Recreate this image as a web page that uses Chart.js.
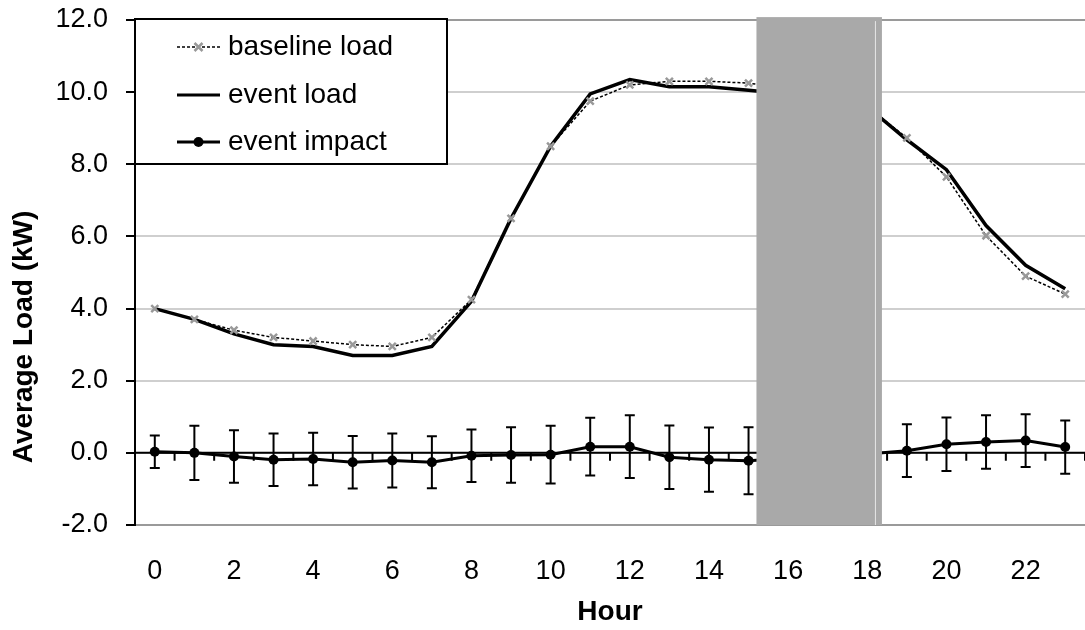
<!DOCTYPE html>
<html>
<head>
<meta charset="utf-8">
<title>Average load on event days</title>
<script src="https://cdn.jsdelivr.net/npm/chart.js@4.4.1/dist/chart.umd.min.js"></script>
<style>
    html, body { margin: 0; padding: 0; background: #fff; }
</style>
</head>
<body>
<canvas id="load-chart" width="1085" height="630"></canvas>
<script>
// ---------------------------- Data ------------------------------------------ //
const hours = [ "0", "1", "2", "3", "4", "5", "6", "7", "8", "9", "10", "11",
    "12", "13", "14", "15", "16", "17", "18", "19", "20", "21", "22", "23" ];

const baseline_load = [ 4.0, 3.7, 3.4, 3.2, 3.1, 3.0, 2.95, 3.2, 4.25, 6.5, 8.5, 9.75,
    10.2, 10.3, 10.3, 10.25, 10.1, 9.9, 9.6, 8.73, 7.65, 6.02, 4.9, 4.4 ];

const event_load = [ 4.0, 3.7, 3.3, 3.0, 2.95, 2.7, 2.7, 2.95, 4.2, 6.5, 8.5, 9.95,
    10.35, 10.15, 10.15, 10.05, 9.95, 9.8, 9.6, 8.68, 7.85, 6.3, 5.2, 4.55 ];

const event_impact = [ 0.03, 0.0, -0.1, -0.19, -0.17, -0.26, -0.21, -0.26, -0.08, -0.06, -0.05, 0.17,
    0.17, -0.12, -0.19, -0.22, -0.15, -0.1, -0.03, 0.06, 0.24, 0.3, 0.34, 0.16 ];

// half length of each error bar (kW)
const impact_error = [ 0.45, 0.75, 0.73, 0.73, 0.73, 0.73, 0.75, 0.72, 0.73, 0.77, 0.8, 0.8,
    0.87, 0.88, 0.89, 0.93, 0.8, 0.8, 0.8, 0.73, 0.74, 0.74, 0.73, 0.74 ];

const y_min = -2;
const y_max = 12;
const y_step = 2;

// grey block over the event hours (in hour units / kW units)
const event_window = [ 15.2, 18.37 ];
const event_window_top = 12.08;

const legend_labels = [ "baseline load", "event load", "event impact" ];

const FONT = "'Liberation Sans', Arial, sans-serif";

// ---------------------------- Plugins ------------------------------------------ //
// black x axis crossing at zero, tick marks between the hours
const zero_axis = {
    id: 'zeroAxis',
    beforeDatasetsDraw( chart ) {
        const { ctx, chartArea, scales: { x, y } } = chart;
        const y0 = y.getPixelForValue( 0 );
        ctx.save();
        ctx.strokeStyle = '#000';
        ctx.lineWidth = 2;
        ctx.beginPath();
        ctx.moveTo( chartArea.left, y0 );
        ctx.lineTo( chartArea.right, y0 );
        for ( let i = 0; i < hours.length; i++ ) {
            const px = x.getPixelForValue( i + 0.5 );
            ctx.moveTo( px, y0 );
            ctx.lineTo( px, y0 + 8 );
        }
        ctx.stroke();
        ctx.restore();
    }
};

const error_bars = {
    id: 'errorBars',
    afterDatasetsDraw( chart ) {
        const { ctx, scales: { x, y } } = chart;
        ctx.save();
        ctx.strokeStyle = '#000';
        ctx.lineWidth = 2;
        ctx.beginPath();
        event_impact.forEach( ( v, i ) => {
            const px = x.getPixelForValue( i );
            const top = y.getPixelForValue( v + impact_error[ i ] );
            const bot = y.getPixelForValue( v - impact_error[ i ] );
            ctx.moveTo( px, top );
            ctx.lineTo( px, bot );
            ctx.moveTo( px - 5, top );
            ctx.lineTo( px + 5, top );
            ctx.moveTo( px - 5, bot );
            ctx.lineTo( px + 5, bot );
        } );
        ctx.stroke();
        ctx.restore();
    }
};

const event_block = {
    id: 'eventBlock',
    afterDatasetsDraw( chart ) {
        const { ctx, scales: { x, y } } = chart;
        const left = x.getPixelForValue( event_window[ 0 ] );
        const right = x.getPixelForValue( event_window[ 1 ] );
        const top = y.getPixelForValue( event_window_top );
        const bottom = y.getPixelForValue( y_min );
        ctx.save();
        ctx.fillStyle = '#a9a9a9';
        ctx.fillRect( left, top, right - left, bottom - top );
        ctx.strokeStyle = '#e6e6e6';
        ctx.lineWidth = 1;
        ctx.beginPath();
        ctx.moveTo( right - 6.5, top + 4 );
        ctx.lineTo( right - 6.5, bottom );
        ctx.stroke();
        ctx.restore();
    }
};

// boxed legend in the top left corner + rotated y title
const boxed_legend = {
    id: 'boxedLegend',
    afterDraw( chart ) {
        const { ctx, chartArea } = chart;
        const bx = chartArea.left, by = chartArea.top - 1;
        ctx.save();
        ctx.fillStyle = '#fff';
        ctx.fillRect( bx, by, 312, 145 );
        ctx.strokeStyle = '#000';
        ctx.lineWidth = 2;
        ctx.strokeRect( bx, by, 312, 145 );

        const x1 = bx + 42, x2 = bx + 85, xm = ( x1 + x2 ) / 2;
        const rows = [ by + 28, by + 76, by + 123 ];

        // baseline: thin dashed line with grey cross
        ctx.lineWidth = 1.5;
        ctx.setLineDash( [ 3, 2 ] );
        ctx.beginPath();
        ctx.moveTo( x1, rows[ 0 ] );
        ctx.lineTo( x2, rows[ 0 ] );
        ctx.stroke();
        ctx.setLineDash( [] );
        ctx.strokeStyle = '#999';
        ctx.lineWidth = 2.5;
        ctx.beginPath();
        ctx.moveTo( xm - 4, rows[ 0 ] - 4 );
        ctx.lineTo( xm + 4, rows[ 0 ] + 4 );
        ctx.moveTo( xm - 4, rows[ 0 ] + 4 );
        ctx.lineTo( xm + 4, rows[ 0 ] - 4 );
        ctx.stroke();

        // event load / event impact
        ctx.strokeStyle = '#000';
        ctx.lineWidth = 3;
        ctx.beginPath();
        ctx.moveTo( x1, rows[ 1 ] );
        ctx.lineTo( x2, rows[ 1 ] );
        ctx.moveTo( x1, rows[ 2 ] );
        ctx.lineTo( x2, rows[ 2 ] );
        ctx.stroke();
        ctx.fillStyle = '#000';
        ctx.beginPath();
        ctx.arc( xm, rows[ 2 ], 5, 0, Math.PI * 2 );
        ctx.fill();

        ctx.font = '28px ' + FONT;
        ctx.textBaseline = 'middle';
        ctx.textAlign = 'left';
        legend_labels.forEach( ( t, i ) => ctx.fillText( t, x2 + 8, rows[ i ] ) );

        // y axis title
        ctx.font = 'bold 28px ' + FONT;
        ctx.textAlign = 'center';
        ctx.textBaseline = 'alphabetic';
        ctx.translate( 32, 337 );
        ctx.rotate( -Math.PI / 2 );
        ctx.fillText( 'Average Load (kW)', 0, 0 );
        ctx.restore();
    }
};

// ---------------------------- Chart ------------------------------------------ //
const load_chart = new Chart( document.getElementById( 'load-chart' ),
{
    type: 'line',
    data: {
        labels: hours,
        datasets: [
        {
            label: 'baseline load',
            data: baseline_load,
            borderColor: '#000',
            borderWidth: 1.5,
            borderDash: [ 3, 2 ],
            pointStyle: 'crossRot',
            pointRadius: 5,
            pointBorderWidth: 2.5,
            pointBorderColor: '#999',
            pointBackgroundColor: '#999'
        },
        {
            label: 'event load',
            data: event_load,
            borderColor: '#000',
            borderWidth: 3.5,
            pointRadius: 0
        },
        {
            label: 'event impact',
            data: event_impact,
            borderColor: '#000',
            borderWidth: 3,
            pointRadius: 5,
            pointBackgroundColor: '#000',
            pointBorderColor: '#000',
            pointBorderWidth: 0
        } ]
    },
    options: {
        responsive: false,
        animation: false,
        layout: {
            autoPadding: false,
            padding: { top: 20, right: 0, bottom: 0, left: 0 }
        },
        plugins: {
            legend: { display: false },
            tooltip: { enabled: false }
        },
        scales: {
            x: {
                offset: true,
                // invisible tick marks just push the labels down
                grid: { display: false, drawTicks: true, tickLength: 30 },
                border: { display: false },
                ticks: {
                    color: '#000',
                    font: { family: FONT, size: 27 },
                    autoSkip: false,
                    maxRotation: 0,
                    padding: 0,
                    callback: function ( v, i ) {
                        return i % 2 === 0 ? hours[ i ] : '';
                    }
                },
                title: {
                    display: true,
                    text: 'Hour',
                    color: '#000',
                    font: { family: FONT, size: 28, weight: 'bold' },
                    padding: { top: 0, bottom: 1 }
                },
                afterFit: function ( scale ) {
                    scale.height = 105;
                    scale.paddingLeft = 0;
                    scale.paddingRight = 0;
                }
            },
            y: {
                min: y_min,
                max: y_max,
                ticks: {
                    stepSize: y_step,
                    color: '#000',
                    font: { family: FONT, size: 27 },
                    padding: 18,
                    callback: v => v.toFixed( 1 )
                },
                grid: {
                    color: ctx => ( ctx.tick && ( ctx.tick.value === y_min || ctx.tick.value === y_max ) ) ? '#9a9a9a' : '#cfcfcf',
                    lineWidth: 2,
                    tickColor: '#000',
                    tickLength: 9
                },
                border: { display: true, color: '#000', width: 2 },
                afterFit: function ( scale ) {
                    scale.width = 135;
                    scale.paddingTop = 0;
                    scale.paddingBottom = 0;
                }
            }
        }
    },
    plugins: [ zero_axis, error_bars, event_block, boxed_legend ]
} );
</script>
</body>
</html>
